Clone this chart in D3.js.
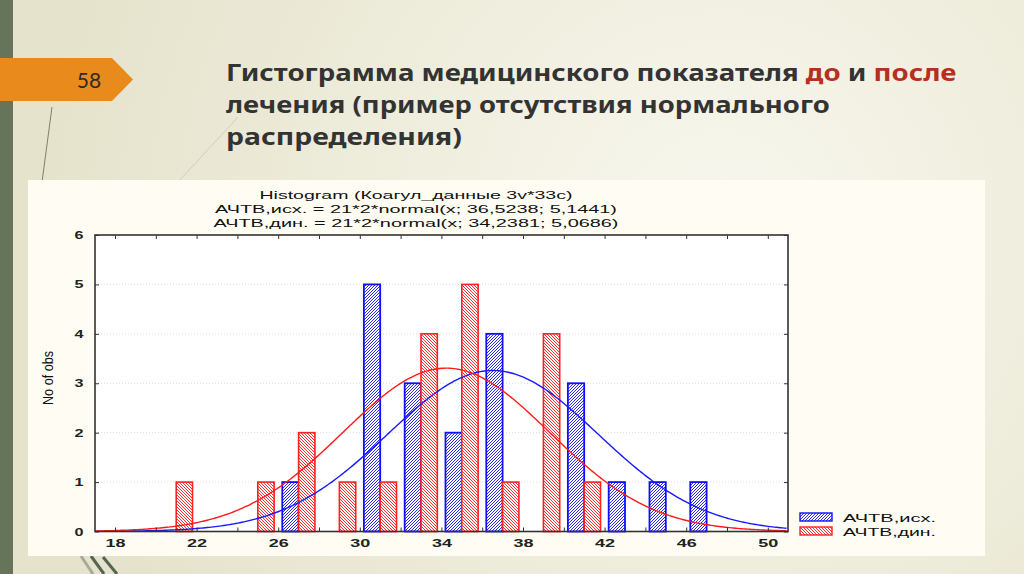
<!DOCTYPE html>
<html><head><meta charset="utf-8">
<script src="https://cdn.jsdelivr.net/npm/d3@7"></script>
<style>html,body{margin:0;padding:0;overflow:hidden;background:#EDEBD7}svg{display:block}</style>
</head><body>
<svg id="c" width="1024" height="574"></svg>
<script>
// ---- data ----
const binCenters = [21,23,25,27,29,31,33,35,37,39,41,43,45,47];
const seriesNames = ["АЧТВ,исх.", "АЧТВ,дин."];
const valuesIsh = [0,0,0,1,0,5,3,2,4,0,3,1,1,1];
const valuesDin = [1,0,1,2,1,1,4,5,1,4,1,0,0,0];
const fitMeans = [36.5238, 34.2381];
const fitSDs = [5.1441, 5.0686];
const fitN = 21;
const binWidth = 2;
const xTickLabels = [18,22,26,30,34,38,42,46,50];
const xTickMarks = [18,20,22,24,26,28,30,32,34,36,38,40,42,44,46,48,50];
const yTicks = [0,1,2,3,4,5,6];
const slideTitle = [
  [["Гистограмма медицинского показателя ", "#333"], ["до", "#B5301E"], [" и ", "#333"], ["после", "#B5301E"]],
  [["лечения (пример отсутствия нормального", "#333"]],
  [["распределения)", "#333"]]
];
const chartTitle = [
  "Histogram (Коагул_данные 3v*33c)",
  "АЧТВ,исх. = 21*2*normal(x; 36,5238; 5,1441)",
  "АЧТВ,дин. = 21*2*normal(x; 34,2381; 5,0686)"
];
const pageNumber = "58";
const yAxisTitle = "No of obs";

// ---- drawing ----
const svg = d3.select("#c");
const defs = svg.append("defs");
const bg = defs.append("radialGradient").attr("id","bg").attr("gradientUnits","userSpaceOnUse")
  .attr("cx",720).attr("cy",230).attr("r",680);
bg.append("stop").attr("offset","0").attr("stop-color","#F8F7EE");
bg.append("stop").attr("offset","1").attr("stop-color","#E5E3CB");

const pb = defs.append("pattern").attr("id","hb").attr("patternUnits","userSpaceOnUse").attr("width",3).attr("height",3);
pb.append("rect").attr("width",3).attr("height",3).attr("fill","#fff");
pb.append("path").attr("d","M-1,1 L1,-1 M0,3 L3,0 M2,4 L4,2").attr("stroke","#2a2aff").attr("stroke-width",1);
const pr = defs.append("pattern").attr("id","hr").attr("patternUnits","userSpaceOnUse").attr("width",3).attr("height",3);
pr.append("rect").attr("width",3).attr("height",3).attr("fill","#fff");
pr.append("path").attr("d","M-1,2 L1,4 M0,0 L3,3 M2,-1 L4,1").attr("stroke","#ff3030").attr("stroke-width",1);

svg.append("rect").attr("width",1024).attr("height",574).attr("fill","url(#bg)");
svg.append("rect").attr("x",0).attr("y",0).attr("width",13).attr("height",574).attr("fill","#66755A");

// decorative lines
svg.append("line").attr("x1",52).attr("y1",107).attr("x2",42).attr("y2",182).attr("stroke","#7d7f70").attr("stroke-width",1);
svg.append("line").attr("x1",238).attr("y1",117).attr("x2",178).attr("y2",182).attr("stroke","#c9c8b6").attr("stroke-width",0.8);
svg.append("line").attr("x1",81).attr("y1",556).attr("x2",93).attr("y2",574).attr("stroke","#a9aa99").attr("stroke-width",3);
svg.append("line").attr("x1",91).attr("y1",556).attr("x2",104).attr("y2",574).attr("stroke","#556650").attr("stroke-width",3);
svg.append("line").attr("x1",103).attr("y1",557).attr("x2",117).attr("y2",574).attr("stroke","#556650").attr("stroke-width",3);

// orange tab
svg.append("path").attr("d","M0,58 L112,58 L133,79.5 L112,101 L0,101 Z").attr("fill","#E98A1C");
svg.append("text").attr("x",89).attr("y",88).attr("text-anchor","middle")
  .attr("font-family","Lato, 'Open Sans', sans-serif").attr("font-size",21).attr("fill","#2a2a2a").text(pageNumber);

// slide title
const titleBase = [81, 113, 145];
const titleWidths = [731, 604, 236];
slideTitle.forEach((parts, i) => {
  const t = svg.append("text").attr("x",0).attr("y",0)
    .attr("font-family","'Noto Sans', 'Open Sans', sans-serif").attr("font-weight",700).attr("font-size",24)
    .style("white-space","pre");
  parts.forEach(p => t.append("tspan").attr("fill",p[1]).text(p[0]));
  const w = t.node().getComputedTextLength();
  t.attr("transform",`translate(226,${titleBase[i]}) scale(${titleWidths[i]/w},1)`);
});

// chart panel
svg.append("rect").attr("x",28).attr("y",180).attr("width",957).attr("height",376).attr("fill","#FFFDF3");

const L = 95, R = 788, T = 235, B = 531.5;
const x = d3.scaleLinear().domain([18 - (115-L)/20.4, 18 + (R-115)/20.4]).range([L, R]);
const y = d3.scaleLinear().domain([0, 6]).range([B, T]);

svg.append("rect").attr("x",L).attr("y",T).attr("width",R-L).attr("height",B-T).attr("fill","#fff");

// gridlines
svg.append("g").selectAll("line").data(yTicks.filter(d => d>0 && d<6)).join("line")
  .attr("x1",L).attr("x2",R).attr("y1",d=>y(d)).attr("y2",d=>y(d))
  .attr("stroke","#d4d4d4").attr("stroke-width",0.8).attr("stroke-dasharray","1,2");

// bars
const bw = 0.8;
const gBars = svg.append("g");
binCenters.forEach((c, i) => {
  if (valuesIsh[i] > 0) gBars.append("rect")
    .attr("x", x(c - bw)).attr("width", x(c) - x(c - bw))
    .attr("y", y(valuesIsh[i])).attr("height", y(0) - y(valuesIsh[i]))
    .attr("fill","url(#hb)").attr("stroke","#1010ff").attr("stroke-width",1.8);
  if (valuesDin[i] > 0) gBars.append("rect")
    .attr("x", x(c)).attr("width", x(c + bw) - x(c))
    .attr("y", y(valuesDin[i])).attr("height", y(0) - y(valuesDin[i]))
    .attr("fill","url(#hr)").attr("stroke","#ff2020").attr("stroke-width",1.6);
});

// fitted normal curves (defined by the formulas in the chart title)
const [x0, x1] = x.domain();
const xs = d3.range(x0, x1 + 0.001, 0.1);
const fitColors = ["#1a1aff", "#ff1a1a"];
fitMeans.forEach((m, k) => {
  const s = fitSDs[k];
  const pts = xs.map(v => [v, fitN * binWidth * Math.exp(-0.5 * ((v - m) / s) ** 2) / (s * Math.sqrt(2 * Math.PI))]);
  svg.append("path").datum(pts)
    .attr("d", d3.line().x(d => x(d[0])).y(d => y(d[1])))
    .attr("fill","none").attr("stroke",fitColors[k]).attr("stroke-width",1.4);
});

// frame
svg.append("rect").attr("x",L).attr("y",T).attr("width",R-L).attr("height",B-T)
  .attr("fill","none").attr("stroke","#333").attr("stroke-width",1.6);

// axes
const fontAx = "'Liberation Sans', Arial, sans-serif";
const xAxis = svg.append("g").attr("transform",`translate(0,${B})`)
  .call(d3.axisBottom(x).tickValues(xTickMarks).tickSizeInner(-4).tickSizeOuter(0).tickPadding(8)
    .tickFormat(d => xTickLabels.includes(d) ? String(d) : ""));
xAxis.select(".domain").remove();
xAxis.selectAll("line").attr("stroke","#333");
xAxis.selectAll("text").attr("font-family",fontAx).attr("font-weight",700).attr("font-size",11)
  .attr("fill","#222").each(function(){ if (this.textContent) d3.select(this).attr("textLength",20).attr("lengthAdjust","spacingAndGlyphs"); });

const xTop = svg.append("g").attr("transform",`translate(0,${T})`)
  .call(d3.axisTop(x).tickValues(xTickMarks).tickSizeInner(-4).tickSizeOuter(0).tickFormat(""));
xTop.select(".domain").remove();
xTop.selectAll("line").attr("stroke","#333");

const yAxis = svg.append("g").attr("transform",`translate(${L},0)`)
  .call(d3.axisLeft(y).tickValues(yTicks).tickSizeInner(-4).tickSizeOuter(0).tickPadding(12).tickFormat(d3.format("d")));
yAxis.select(".domain").remove();
yAxis.selectAll("line").attr("stroke","#333");
yAxis.selectAll("text").attr("font-family",fontAx).attr("font-weight",700).attr("font-size",11)
  .attr("fill","#222").attr("text-anchor","middle").attr("x",-16).attr("textLength",9).attr("lengthAdjust","spacingAndGlyphs");

const yRight = svg.append("g").attr("transform",`translate(${R},0)`)
  .call(d3.axisRight(y).tickValues(yTicks).tickSizeInner(-4).tickSizeOuter(0).tickFormat(""));
yRight.select(".domain").remove();
yRight.selectAll("line").attr("stroke","#333");

svg.append("text").attr("transform","translate(53,378) rotate(-90)").attr("text-anchor","middle")
  .attr("font-family","'Liberation Sans Narrow', 'Arial Narrow', 'Liberation Sans', sans-serif")
  .attr("font-size",15).attr("fill","#111").attr("textLength",54).attr("lengthAdjust","spacingAndGlyphs").text(yAxisTitle);

// chart title
const ctY = [199, 213, 227];
const ctW = [313, 402, 405];
chartTitle.forEach((s, i) => {
  svg.append("text").attr("x",416).attr("y",ctY[i]).attr("text-anchor","middle")
    .attr("font-family",fontAx).attr("font-size",11.5).attr("fill","#111")
    .attr("textLength",ctW[i]).attr("lengthAdjust","spacingAndGlyphs").text(s);
});

// legend
const lg = svg.append("g");
[["url(#hb)","#1010ff"],["url(#hr)","#ff2020"]].forEach((st, i) => {
  lg.append("rect").attr("x",800).attr("y",513 + i*14).attr("width",32).attr("height",8)
    .attr("fill",st[0]).attr("stroke",st[1]).attr("stroke-width",1.4);
  lg.append("text").attr("x",843).attr("y",521.5 + i*14)
    .attr("font-family",fontAx).attr("font-size",11.5).attr("fill","#111")
    .attr("textLength",93).attr("lengthAdjust","spacingAndGlyphs").text(seriesNames[i]);
});
</script>
</body></html>
